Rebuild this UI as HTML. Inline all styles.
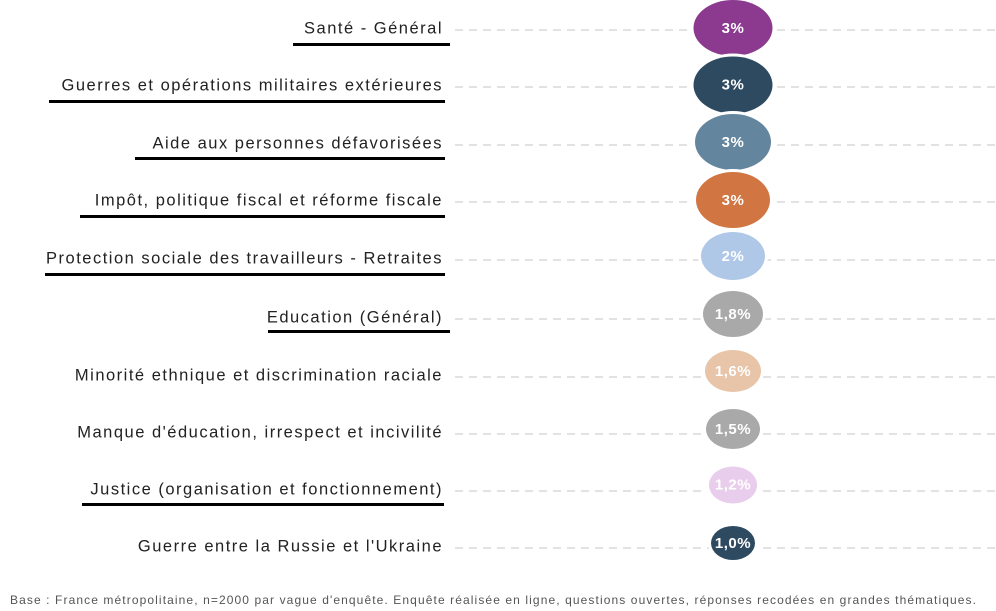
<!DOCTYPE html>
<html><head><meta charset="utf-8"><style>
body{margin:0;width:996px;height:611px;background:#fff;position:relative;overflow:hidden;font-family:"Liberation Sans",sans-serif}
.l{position:absolute;right:553px;font-size:16.5px;letter-spacing:1.5px;color:#222;white-space:nowrap;transform:translateY(-50%)}
.u{position:absolute;height:3px;background:#000}
.d{position:absolute;left:455px;right:0;height:1.5px;background:repeating-linear-gradient(90deg,#e2e2e2 0 8px,transparent 8px 14px)}
.b{position:absolute;border-radius:50%;color:#fff;font-weight:bold;font-size:15px;letter-spacing:0.5px;display:flex;align-items:center;justify-content:center;transform:translate(-50%,-50%);box-shadow:0 0 0 3px #fff}
.f{position:absolute;left:10px;top:593px;font-size:12px;letter-spacing:1.1px;color:#555;white-space:nowrap}
</style></head><body>
<div class="d" style="top:29px"></div><div class="d" style="top:86px"></div><div class="d" style="top:144px"></div><div class="d" style="top:201px"></div><div class="d" style="top:259px"></div><div class="d" style="top:318px"></div><div class="d" style="top:376px"></div><div class="d" style="top:433px"></div><div class="d" style="top:490px"></div><div class="d" style="top:547px"></div>

<div class="l" style="top:29px">Santé - Général</div><div class="u" style="left:293px;width:157px;top:43px"></div>
<div class="l" style="top:86px">Guerres et opérations militaires extérieures</div><div class="u" style="left:49px;width:396px;top:100px"></div>
<div class="l" style="top:144px">Aide aux personnes défavorisées</div><div class="u" style="left:135px;width:310px;top:157px"></div>
<div class="l" style="top:201px">Impôt, politique fiscal et réforme fiscale</div><div class="u" style="left:80px;width:365px;top:215px"></div>
<div class="l" style="top:259px">Protection sociale des travailleurs - Retraites</div><div class="u" style="left:45px;width:400px;top:273px"></div>
<div class="l" style="top:318px">Education (Général)</div><div class="u" style="left:268px;width:182px;top:330px"></div>
<div class="l" style="top:376px">Minorité ethnique et discrimination raciale</div>
<div class="l" style="top:433px">Manque d'éducation, irrespect et incivilité</div>
<div class="l" style="top:490px">Justice (organisation et fonctionnement)</div><div class="u" style="left:82px;width:362px;top:503px"></div>
<div class="l" style="top:547px">Guerre entre la Russie et l'Ukraine</div>

<div class="b" style="left:733px;top:28px;width:79px;height:56px;background:#8b3a8f">3%</div>
<div class="b" style="left:733px;top:85px;width:79px;height:57px;background:#2d4a60">3%</div>
<div class="b" style="left:733px;top:142px;width:76px;height:56px;background:#64859e">3%</div>
<div class="b" style="left:733px;top:200px;width:74px;height:56px;background:#d17643">3%</div>
<div class="b" style="left:733px;top:256px;width:64px;height:48px;background:#afc8e8">2%</div>
<div class="b" style="left:733px;top:314px;width:60px;height:46px;background:#a9a9a9">1,8%</div>
<div class="b" style="left:733px;top:371px;width:56px;height:42px;background:#e8c4a8">1,6%</div>
<div class="b" style="left:733px;top:429px;width:54px;height:40px;background:#a9a9a9">1,5%</div>
<div class="b" style="left:733px;top:485px;width:48px;height:37px;background:#e9cdec">1,2%</div>
<div class="b" style="left:733px;top:543px;width:44px;height:34px;background:#2d4a60">1,0%</div>

<div class="f">Base : France métropolitaine, n=2000 par vague d'enquête. Enquête réalisée en ligne, questions ouvertes, réponses recodées en grandes thématiques.</div>
</body></html>
